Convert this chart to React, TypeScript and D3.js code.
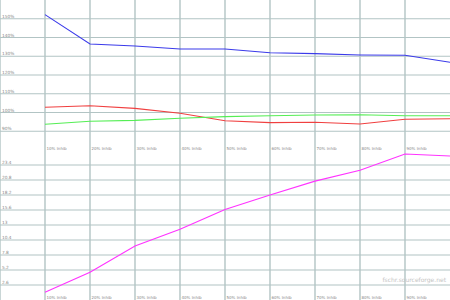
import React from "react";
import * as d3 from "d3";

const categories = ["10% Inhib", "20% Inhib", "30% Inhib", "40% Inhib", "50% Inhib", "60% Inhib", "70% Inhib", "80% Inhib", "90% Inhib", "100% Inhib"];
const blueSeries = [152.2, 136.5, 135.5, 133.9, 133.9, 131.9, 131.4, 130.7, 130.5, 126.8];
const redSeries = [102.8, 103.6, 102.2, 99.6, 95.6, 94.6, 94.8, 93.9, 96.4, 96.7];
const greenSeries = [93.7, 95.3, 95.8, 96.9, 97.8, 98.3, 98.7, 98.8, 98.3, 98.3];
const magentaSeries = [1.33, 4.8, 9.36, 12.25, 15.7, 18.2, 20.6, 22.5, 25.3, 24.96];
const topTicks = [90, 100, 110, 120, 130, 140, 150];
const bottomTicks = [2.6, 5.2, 7.8, 10.4, 13, 15.6, 18.2, 20.8, 23.4];

const W = 450, H = 300;
const gridColor = "#b2c4c4";
const textColor = "#888";

export default function App() {
  const x = d3.scaleLinear().domain([0, 10]).range([0, 450]);
  const yTop = d3.scaleLinear().domain([80, 160]).range([150, 0]);
  const yBot = d3.scaleLinear().domain([0, 26]).range([300, 150]);
  const lineTop = d3.line<number>().x((_, i) => x(i + 1)).y((d) => yTop(d));
  const lineBot = d3.line<number>().x((_, i) => x(i + 1)).y((d) => yBot(d));
  const vIdx = d3.range(0, 10);
  return (
    <div style={{ position: "fixed", left: 0, top: 0 }}>
      <svg width={W} height={H} style={{ display: "block", background: "#fff" }} fontFamily="DejaVu Sans, sans-serif">
        {vIdx.map((i) => (
          <line key={"v" + i} x1={x(i)} x2={x(i)} y1={0} y2={H} stroke={gridColor} strokeWidth={1.4} />
        ))}
        {topTicks.map((t) => (
          <line key={"ht" + t} x1={0} x2={W} y1={yTop(t)} y2={yTop(t)} stroke={gridColor} strokeWidth={1.1} />
        ))}
        {bottomTicks.map((t) => (
          <line key={"hb" + t} x1={0} x2={W} y1={yBot(t)} y2={yBot(t)} stroke={gridColor} strokeWidth={1.1} />
        ))}
        {topTicks.map((t) => (
          <text key={"lt" + t} x={2} y={yTop(t) - 1} fontSize={4.3} fill={textColor}>{t + "%"}</text>
        ))}
        {bottomTicks.map((t) => (
          <text key={"lb" + t} x={2} y={yBot(t) - 1} fontSize={4.3} fill={textColor}>{String(t)}</text>
        ))}
        {categories.map((c, i) =>
          x(i + 1) < W ? (
            <g key={"c" + i}>
              <text x={x(i + 1) + 1.5} y={149.5} fontSize={4} fill={textColor}>{c}</text>
              <text x={x(i + 1) + 1.5} y={298.5} fontSize={4} fill={textColor}>{c}</text>
            </g>
          ) : null
        )}
        <text x={446} y={282} fontSize={6} fill="#c4c4c4" textAnchor="end">fschr.sourceforge.net</text>
        <path d={lineTop(blueSeries) || ""} fill="none" stroke="#3b3bea" strokeWidth={1.1} />
        <path d={lineTop(redSeries) || ""} fill="none" stroke="#f04040" strokeWidth={1.1} />
        <path d={lineTop(greenSeries) || ""} fill="none" stroke="#55ee55" strokeWidth={1.1} />
        <path d={lineBot(magentaSeries) || ""} fill="none" stroke="#ff33ff" strokeWidth={1.1} />
      </svg>
    </div>
  );
}
